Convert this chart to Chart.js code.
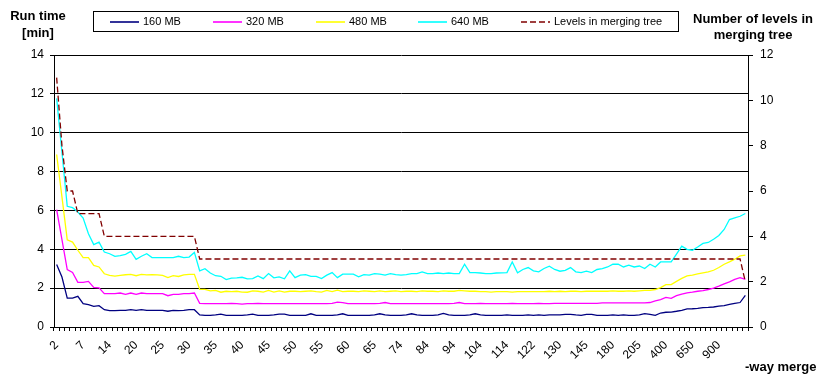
<!DOCTYPE html>
<html>
<head>
<meta charset="utf-8">
<script src="https://cdn.jsdelivr.net/npm/chart.js@4.4.1/dist/chart.umd.min.js"></script>
<style>
  html, body { margin: 0; padding: 0; background: #fff; }
  #wrap { position: relative; width: 819px; height: 376px; font-family: "Liberation Sans", Arial, sans-serif; color: #000; }
  #chart { position: absolute; left: 0; top: 0; }
  .title { position: absolute; font-weight: bold; font-size: 13px; line-height: 17px; text-align: center; white-space: nowrap; }
  #legend { position: absolute; left: 93px; top: 11px; width: 586px; height: 21px; border: 1px solid #000; box-sizing: border-box; font-size: 11px; }
  .item { position: absolute; top: 0; height: 19px; line-height: 19px; white-space: nowrap; }
  .item svg { vertical-align: middle; margin-right: 4px; }
</style>
</head>
<body>
<div id="wrap">
  <canvas id="chart" width="819" height="376"></canvas>
  <div class="title" style="left:0px; top:7px; width:76px;">Run time<br>[min]</div>
  <div class="title" style="left:693px; top:11px; width:120px; line-height:16px;">Number of levels in<br>merging tree</div>
  <div class="title" style="left:745px; top:358px;">-way merge</div>
  <div id="legend"></div>
</div>
<script>
// ====== DATA ======
const categories = [
    2, 3, 4, 5, 6, 7,
    8, 9, 10, 12, 14,
    15, 16, 17, 18, 20,
    21, 22, 23, 24, 25,
    26, 27, 28, 29, 30,
    31, 32, 33, 34, 35,
    36, 37, 38, 39, 40,
    41, 42, 43, 44, 45,
    46, 47, 48, 49, 50,
    51, 52, 53, 54, 55,
    56, 57, 58, 59, 60,
    61, 62, 63, 64, 65,
    66, 68, 70, 72, 74,
    76, 78, 80, 82, 84,
    86, 88, 90, 92, 94,
    96, 98, 100, 102, 104,
    106, 108, 110, 112, 114,
    116, 117, 118, 120, 122,
    124, 125, 126, 128, 130,
    133, 136, 139, 142, 145,
    150, 160, 165, 170, 180,
    185, 190, 195, 200, 205,
    250, 300, 320, 350, 400,
    450, 500, 550, 600, 650,
    700, 750, 800, 850, 900,
    925, 950, 975, 1000, 1024
];

const mb160 = [
    3.22, 2.57, 1.49, 1.49, 1.58, 1.2, 1.15, 1.06, 1.1, 0.89,
    0.84, 0.84, 0.86, 0.86, 0.89, 0.86, 0.89, 0.86, 0.86, 0.86,
    0.86, 0.81, 0.86, 0.84, 0.86, 0.89, 0.89, 0.62, 0.6, 0.6,
    0.62, 0.66, 0.6, 0.6, 0.6, 0.6, 0.62, 0.66, 0.6, 0.6,
    0.6, 0.62, 0.66, 0.66, 0.6, 0.6, 0.6, 0.6, 0.68, 0.6,
    0.6, 0.6, 0.6, 0.62, 0.68, 0.6, 0.6, 0.6, 0.6, 0.6,
    0.62, 0.68, 0.62, 0.6, 0.6, 0.6, 0.62, 0.68, 0.62, 0.6,
    0.6, 0.6, 0.62, 0.7, 0.62, 0.6, 0.6, 0.6, 0.62, 0.68,
    0.62, 0.6, 0.6, 0.6, 0.6, 0.62, 0.6, 0.6, 0.6, 0.62,
    0.6, 0.62, 0.6, 0.62, 0.62, 0.62, 0.65, 0.65, 0.62, 0.6,
    0.65, 0.65, 0.6, 0.6, 0.6, 0.62, 0.6, 0.62, 0.6, 0.6,
    0.62, 0.69, 0.65, 0.6, 0.72, 0.76, 0.77, 0.81, 0.86, 0.93,
    0.94, 0.96, 1.0, 1.01, 1.03, 1.07, 1.1, 1.17, 1.22, 1.26,
    1.63
];

const mb320 = [
    6.04, 4.5, 2.95, 2.81, 2.3, 2.3, 2.35, 2.04, 2.02, 1.72,
    1.72, 1.72, 1.75, 1.68, 1.75, 1.68, 1.75, 1.72, 1.72, 1.72,
    1.72, 1.61, 1.68, 1.68, 1.72, 1.72, 1.75, 1.22, 1.2, 1.2,
    1.2, 1.2, 1.2, 1.22, 1.2, 1.18, 1.2, 1.2, 1.22, 1.2,
    1.2, 1.2, 1.2, 1.2, 1.2, 1.2, 1.2, 1.2, 1.2, 1.2,
    1.2, 1.2, 1.22, 1.28, 1.25, 1.2, 1.2, 1.2, 1.2, 1.2,
    1.2, 1.22, 1.26, 1.2, 1.2, 1.2, 1.2, 1.2, 1.2, 1.2,
    1.2, 1.2, 1.2, 1.2, 1.2, 1.22, 1.26, 1.2, 1.2, 1.2,
    1.22, 1.2, 1.2, 1.2, 1.2, 1.2, 1.22, 1.2, 1.2, 1.2,
    1.2, 1.22, 1.2, 1.2, 1.22, 1.22, 1.22, 1.22, 1.22, 1.22,
    1.22, 1.22, 1.22, 1.24, 1.24, 1.24, 1.24, 1.24, 1.24, 1.24,
    1.24, 1.24, 1.26, 1.34, 1.41, 1.52, 1.47, 1.61, 1.69, 1.76,
    1.79, 1.84, 1.87, 1.93, 2.0, 2.1, 2.22, 2.32, 2.45, 2.54,
    2.45
];

const mb480 = [
    8.88, 6.7, 4.49, 4.37, 3.95, 3.57, 3.57, 3.17, 3.09, 2.74,
    2.66, 2.62, 2.66, 2.69, 2.71, 2.64, 2.71, 2.68, 2.7, 2.68,
    2.66, 2.54, 2.64, 2.6, 2.68, 2.71, 2.71, 1.94, 1.94, 1.86,
    1.88, 1.79, 1.84, 1.82, 1.84, 1.8, 1.79, 1.86, 1.84, 1.8,
    1.88, 1.8, 1.86, 1.8, 1.84, 1.84, 1.82, 1.84, 1.86, 1.82,
    1.8, 1.88, 1.82, 1.9, 1.82, 1.84, 1.84, 1.82, 1.86, 1.84,
    1.82, 1.86, 1.82, 1.84, 1.86, 1.82, 1.84, 1.84, 1.82, 1.86,
    1.84, 1.84, 1.82, 1.86, 1.84, 1.84, 1.88, 1.86, 1.84, 1.84,
    1.82, 1.82, 1.8, 1.82, 1.82, 1.82, 1.8, 1.82, 1.82, 1.82,
    1.82, 1.82, 1.82, 1.84, 1.82, 1.84, 1.82, 1.84, 1.84, 1.82,
    1.84, 1.84, 1.84, 1.84, 1.84, 1.86, 1.84, 1.84, 1.86, 1.84,
    1.86, 1.88, 1.89, 1.93, 2.03, 2.18, 2.18, 2.35, 2.5, 2.63,
    2.67, 2.73, 2.79, 2.84, 2.92, 3.06, 3.23, 3.35, 3.49, 3.66,
    3.7
];

const mb640 = [
    11.77, 9.0, 6.21, 6.14, 5.92, 5.61, 4.8, 4.24, 4.37, 3.86,
    3.77, 3.64, 3.67, 3.74, 3.89, 3.48, 3.64, 3.77, 3.57, 3.57,
    3.57, 3.57, 3.57, 3.64, 3.57, 3.6, 3.84, 2.89, 3.0, 2.78,
    2.64, 2.61, 2.44, 2.52, 2.53, 2.56, 2.48, 2.49, 2.63, 2.49,
    2.75, 2.53, 2.58, 2.48, 2.89, 2.54, 2.67, 2.7, 2.61, 2.61,
    2.49, 2.67, 2.8, 2.54, 2.72, 2.72, 2.72, 2.58, 2.7, 2.67,
    2.75, 2.72, 2.67, 2.75, 2.7, 2.67, 2.7, 2.75, 2.75, 2.84,
    2.75, 2.75, 2.78, 2.75, 2.78, 2.75, 2.75, 3.23, 2.8, 2.8,
    2.78, 2.75, 2.75, 2.78, 2.79, 2.8, 3.35, 2.79, 2.96, 3.06,
    2.89, 2.84, 3.01, 3.13, 2.96, 2.87, 2.92, 3.06, 2.84, 2.8,
    2.87, 2.8, 2.96, 3.01, 3.09, 3.23, 3.23, 3.09, 3.18, 3.09,
    3.14, 3.01, 3.23, 3.09, 3.35, 3.35, 3.35, 3.75, 4.16, 4.0,
    3.95, 4.12, 4.3, 4.35, 4.52, 4.71, 5.02, 5.53, 5.62, 5.7,
    5.84
];

// levels in merging tree (right axis)
const levels = [
    11, 8, 6, 6, 5, 5, 5, 5, 5, 4,
    4, 4, 4, 4, 4, 4, 4, 4, 4, 4,
    4, 4, 4, 4, 4, 4, 4, 3, 3, 3,
    3, 3, 3, 3, 3, 3, 3, 3, 3, 3,
    3, 3, 3, 3, 3, 3, 3, 3, 3, 3,
    3, 3, 3, 3, 3, 3, 3, 3, 3, 3,
    3, 3, 3, 3, 3, 3, 3, 3, 3, 3,
    3, 3, 3, 3, 3, 3, 3, 3, 3, 3,
    3, 3, 3, 3, 3, 3, 3, 3, 3, 3,
    3, 3, 3, 3, 3, 3, 3, 3, 3, 3,
    3, 3, 3, 3, 3, 3, 3, 3, 3, 3,
    3, 3, 3, 3, 3, 3, 3, 3, 3, 3,
    3, 3, 3, 3, 3, 3, 3, 3, 3, 3,
    2
];

const seriesNames = ['160 MB', '320 MB', '480 MB', '640 MB', 'Levels in merging tree'];
const seriesColors = ['#000080', '#FF00FF', '#FFFF00', '#00FFFF', '#800000'];
const labelEvery = 5;
const lastLabelIndex = 125; // 900 is the last printed category

// ====== LEGEND (html, boxed like the original) ======
const legendX = [16, 119, 222, 324, 427];
const legend = document.getElementById('legend');
seriesNames.forEach((name, i) => {
    const dash = i === 4 ? ' stroke-dasharray="6,3"' : '';
    const el = document.createElement('div');
    el.className = 'item';
    el.style.left = legendX[i] + 'px';
    el.innerHTML = `<svg width="29" height="4"><line x1="0" y1="2" x2="29" y2="2" stroke="${seriesColors[i]}" stroke-width="1.6"${dash}/></svg>${name}`;
    legend.appendChild(el);
});

// ====== CHART ======
const font = { family: '"Liberation Sans", Arial, sans-serif', size: 12 };

function lineSet(label, data, color, axis, dash) {
    return {
        label: label,
        data: data,
        borderColor: color,
        backgroundColor: color,
        borderWidth: 1.3,
        borderDash: dash || [],
        pointRadius: 0,
        tension: 0,
        yAxisID: axis,
    };
}

new Chart(document.getElementById('chart'), {
    type: 'line',
    data: {
        labels: categories,
        datasets: [
            lineSet(seriesNames[4], levels, seriesColors[4], 'y1', [6, 3]),
            lineSet(seriesNames[0], mb160, seriesColors[0], 'y'),
            lineSet(seriesNames[1], mb320, seriesColors[1], 'y'),
            lineSet(seriesNames[2], mb480, seriesColors[2], 'y'),
            lineSet(seriesNames[3], mb640, seriesColors[3], 'y'),
        ]
    },
    options: {
        responsive: false,
        animation: false,
        devicePixelRatio: 1,
        layout: { padding: { top: 55, left: 0, right: 0, bottom: 0 } },
        plugins: {
            legend: { display: false },
            tooltip: { enabled: false }
        },
        scales: {
            x: {
                type: 'category',
                offset: true,
                grid: { offset: true, drawOnChartArea: false, drawTicks: true, tickLength: 4, color: '#000' },
                border: { display: true, color: '#000', width: 1 },
                ticks: {
                    autoSkip: false,
                    maxRotation: 45,
                    minRotation: 45,
                    padding: 7,
                    color: '#000',
                    font: font,
                    callback: function (value, index) {
                        return (index % labelEvery === 0 && index <= lastLabelIndex) ? this.getLabelForValue(value) : '';
                    }
                },
                afterFit: s => { s.height = 49; }
            },
            y: {
                position: 'left',
                min: 0,
                max: 14,
                ticks: { stepSize: 2, padding: 6, color: '#000', font: font },
                grid: { color: '#000', lineWidth: 1, tickLength: 4 },
                border: { display: true, color: '#000', width: 1 },
                afterFit: s => { s.width = 54; }
            },
            y1: {
                position: 'right',
                min: 0,
                max: 12,
                ticks: { stepSize: 2, padding: 7, color: '#000', font: font },
                grid: { drawOnChartArea: false, color: '#000', tickLength: 5 },
                border: { display: true, color: '#000', width: 1 },
                afterFit: s => { s.width = 71; }
            }
        }
    }
});
</script>
</body>
</html>
